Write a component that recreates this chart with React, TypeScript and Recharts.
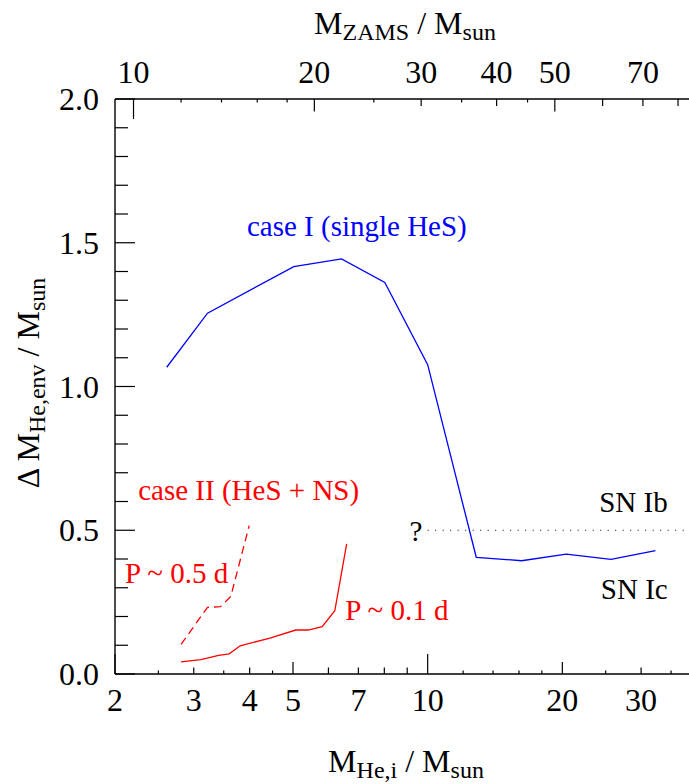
import React from 'react';
import { ComposedChart, Line, Scatter, XAxis, YAxis, ReferenceLine } from 'recharts';

// ---- data ----
const caseIMass = [2.61, 3.22, 5.02, 6.42, 8.02, 10.0, 12.84, 16.22, 20.4, 25.7, 32.3];
const caseIEnv = [1.067, 1.255, 1.417, 1.444, 1.362, 1.076, 0.406, 0.394, 0.417, 0.399, 0.429];

const p01Mass = [2.81, 3.11, 3.41, 3.6, 3.81, 4.44, 5.07, 5.41, 5.81, 6.2, 6.59];
const p01Env = [0.042, 0.05, 0.065, 0.07, 0.098, 0.125, 0.153, 0.153, 0.165, 0.22, 0.453];

const p05Mass = [2.81, 3.22, 3.44, 3.63, 3.99];
const p05Env = [0.103, 0.232, 0.234, 0.27, 0.516];

const boundaryFrom = 10;
const boundaryTo = 40;
const boundaryEnv = 0.5;

// bottom axis (M_He,i)
const heDomain = [2, 40];
const heTicks = [2, 2.5, 3, 3.5, 4, 4.5, 5, 6, 7, 8, 9, 10, 12, 14, 16, 18, 20, 25, 30, 35];
const heLabels = [2, 3, 4, 5, 7, 10, 20, 30];
const heLong = [2, 10];
const heMid = [5, 20];
const heShort = [3, 4, 6, 7, 8, 9, 30];

// top axis (M_ZAMS) : ZAMS values and the M_He,i at which they sit
const zamsValues = [10, 12, 14, 16, 18, 20, 25, 30, 35, 40, 45, 50, 60, 70, 80];
const zamsAtHe = [2.2, 2.81, 3.46, 4.16, 4.85, 5.58, 7.58, 9.67, 11.91, 14.26, 16.72, 19.24, 24.61, 30.28, 36.28];
const zamsLabels = [10, 20, 30, 40, 50, 70];
const zamsLong = [10];
const zamsMid = [20, 50];
const zamsShort = [30, 40, 60, 70, 80];

// y axis
const envDomain = [0, 2];
const envTicks = [0, 0.1, 0.2, 0.3, 0.4, 0.5, 0.6, 0.7, 0.8, 0.9, 1.0, 1.1, 1.2, 1.3, 1.4, 1.5, 1.6, 1.7, 1.8, 1.9, 2.0];
const envLabels = [0, 0.5, 1.0, 1.5, 2.0];

// annotations
const annoText = ['case I (single HeS)', 'case II (HeS + NS)', 'P ~ 0.5 d', 'P ~ 0.1 d', '?', 'SN Ib', 'SN Ic'];
const annoMass = [3.944, 2.254, 2.105, 6.545, 9.41, 34.4, 34.4];
const annoEnv = [1.522, 0.605, 0.318, 0.188, 0.463, 0.563, 0.261];
const annoColor = ['#0000ff', '#ff0000', '#ff0000', '#ff0000', '#000000', '#000000', '#000000'];
const annoAnchor = ['start', 'start', 'start', 'start', 'middle', 'end', 'end'];

const zip = (xs: number[], ys: number[]) => xs.map((m, i) => ({ mass: m, env: ys[i] }));
const caseIData = zip(caseIMass, caseIEnv);
const p01Data = zip(p01Mass, p01Env);
const p05Data = zip(p05Mass, p05Env);
const annoData = annoText.map((t, i) => ({
  mass: annoMass[i],
  env: annoEnv[i],
  text: t,
  color: annoColor[i],
  anchor: annoAnchor[i],
}));

const FONT = '"Liberation Serif", "Times New Roman", Times, serif';
const TICK_FS = 32;
const SUB_FS = 24;
const ANNO_FS = 29;

const isIn = (arr: number[], v: number) => arr.some((a) => Math.abs(a - v) < 1e-6);

const heLen = (v: number) => (isIn(heLong, v) ? 20 : isIn(heMid, v) ? 12 : isIn(heShort, v) ? 6.5 : 3.5);

const BottomTick = (props: any) => {
  const { x, y, payload } = props;
  const v = payload.value;
  return (
    <g>
      <line x1={x} x2={x} y1={y} y2={y - heLen(v)} stroke="#000" strokeWidth={1.2} />
      {isIn(heLabels, v) && (
        <text x={x} y={y + 37} textAnchor="middle" fontSize={TICK_FS} fontFamily={FONT} fill="#000">
          {String(v)}
        </text>
      )}
    </g>
  );
};

const TopTick = (props: any) => {
  const { x, y, index } = props;
  const z = zamsValues[index];
  const len = isIn(zamsLong, z) ? 20 : isIn(zamsMid, z) ? 12.5 : isIn(zamsShort, z) ? 7 : 3.5;
  return (
    <g>
      <line x1={x} x2={x} y1={y} y2={y + len} stroke="#000" strokeWidth={1.2} />
      {isIn(zamsLabels, z) && (
        <text x={x} y={y - 16} textAnchor="middle" fontSize={TICK_FS} fontFamily={FONT} fill="#000">
          {String(z)}
        </text>
      )}
    </g>
  );
};

const envMajor = (v: number) => Math.abs(v * 2 - Math.round(v * 2)) < 1e-6;

const LeftTick = (props: any) => {
  const { x, y, payload } = props;
  const v = payload.value;
  const len = envMajor(v) ? 20 : 13;
  return (
    <g>
      <line x1={x} x2={x + len} y1={y} y2={y} stroke="#000" strokeWidth={1.2} />
      {isIn(envLabels, v) && (
        <text x={x - 16} y={y + 11} textAnchor="end" fontSize={TICK_FS} fontFamily={FONT} fill="#000">
          {v.toFixed(1)}
        </text>
      )}
    </g>
  );
};

const RightTick = (props: any) => {
  const { x, y, payload } = props;
  const v = payload.value;
  const len = envMajor(v) ? 20 : 13;
  return <line x1={x} x2={x - len} y1={y} y2={y} stroke="#000" strokeWidth={1.2} />;
};

const AnnoShape = (props: any) => {
  const { cx, cy, payload } = props;
  return (
    <text
      x={cx}
      y={cy}
      textAnchor={payload.anchor}
      fontSize={ANNO_FS}
      fontFamily={FONT}
      fill={payload.color}
    >
      {payload.text}
    </text>
  );
};

const TopTitle = () => (
  <text x={405} y={34} textAnchor="middle" fontSize={TICK_FS} fontFamily={FONT} fill="#000">
    M
    <tspan fontSize={SUB_FS} dy={6}>ZAMS</tspan>
    <tspan dy={-6}> / M</tspan>
    <tspan fontSize={SUB_FS} dy={6}>sun</tspan>
  </text>
);

const BottomTitle = () => (
  <text x={406} y={772} textAnchor="middle" fontSize={TICK_FS} fontFamily={FONT} fill="#000">
    M
    <tspan fontSize={SUB_FS} dy={6}>He,i</tspan>
    <tspan dy={-6}> / M</tspan>
    <tspan fontSize={SUB_FS} dy={6}>sun</tspan>
  </text>
);

const LeftTitle = () => (
  <text
    x={383}
    y={39}
    transform="rotate(-90, 0, 0) translate(-766, 0)"
    textAnchor="middle"
    fontSize={TICK_FS}
    fontFamily={FONT}
    fill="#000"
  >
    Δ M
    <tspan fontSize={SUB_FS} dy={6}>He,env</tspan>
    <tspan dy={-6}> / M</tspan>
    <tspan fontSize={SUB_FS} dy={6}>sun</tspan>
  </text>
);

export default function App() {
  return (
    <div
      style={{
        position: 'absolute',
        left: 0,
        top: 0,
        width: 689,
        height: 784,
        overflow: 'hidden',
        background: '#fff',
      }}
    >
      <ComposedChart width={697} height={784} margin={{ top: 0, right: 0, bottom: 0, left: 0 }}>
        <XAxis
          xAxisId="b"
          dataKey="mass"
          type="number"
          scale="log"
          domain={heDomain}
          allowDataOverflow
          ticks={heTicks}
          interval={0}
          orientation="bottom"
          height={110}
          tickSize={0}
          tickMargin={0}
          tickLine={false}
          axisLine={{ stroke: '#000', strokeWidth: 1.4 }}
          tick={<BottomTick />}
          label={{ content: () => <BottomTitle /> }}
        />
        <XAxis
          xAxisId="t"
          dataKey="mass"
          type="number"
          scale="log"
          domain={heDomain}
          allowDataOverflow
          ticks={zamsAtHe}
          interval={0}
          orientation="top"
          height={99}
          tickSize={0}
          tickMargin={0}
          tickLine={false}
          axisLine={{ stroke: '#000', strokeWidth: 1.4 }}
          tick={<TopTick />}
          label={{ content: () => <TopTitle /> }}
        />
        <YAxis
          yAxisId="l"
          dataKey="env"
          type="number"
          domain={envDomain}
          allowDataOverflow
          ticks={envTicks}
          interval={0}
          orientation="left"
          width={115}
          tickSize={0}
          tickMargin={0}
          tickLine={false}
          axisLine={{ stroke: '#000', strokeWidth: 1.4 }}
          tick={<LeftTick />}
          label={{ content: () => <LeftTitle /> }}
        />
        <YAxis
          yAxisId="r"
          dataKey="env"
          type="number"
          domain={envDomain}
          allowDataOverflow
          ticks={envTicks}
          interval={0}
          orientation="right"
          width={0}
          tickSize={0}
          tickMargin={0}
          tickLine={false}
          axisLine={{ stroke: '#000', strokeWidth: 1.4 }}
          tick={<RightTick />}
        />
        <ReferenceLine
          xAxisId="b"
          yAxisId="l"
          segment={[
            { x: boundaryFrom, y: boundaryEnv },
            { x: boundaryTo, y: boundaryEnv },
          ]}
          stroke="#000"
          strokeWidth={1.2}
          strokeDasharray="1 6.5"
          ifOverflow="visible"
        />
        <Line
          xAxisId="b"
          yAxisId="l"
          data={caseIData}
          dataKey="env"
          stroke="#0000ff"
          strokeWidth={1.3}
          dot={false}
          activeDot={false}
          isAnimationActive={false}
          type="linear"
        />
        <Line
          xAxisId="b"
          yAxisId="l"
          data={p01Data}
          dataKey="env"
          stroke="#ff0000"
          strokeWidth={1.3}
          dot={false}
          activeDot={false}
          isAnimationActive={false}
          type="linear"
        />
        <Line
          xAxisId="b"
          yAxisId="l"
          data={p05Data}
          dataKey="env"
          stroke="#ff0000"
          strokeWidth={1.3}
          strokeDasharray="8 5"
          dot={false}
          activeDot={false}
          isAnimationActive={false}
          type="linear"
        />
        <Scatter
          xAxisId="b"
          yAxisId="l"
          data={annoData}
          dataKey="env"
          shape={<AnnoShape />}
          isAnimationActive={false}
        />
      </ComposedChart>
    </div>
  );
}
